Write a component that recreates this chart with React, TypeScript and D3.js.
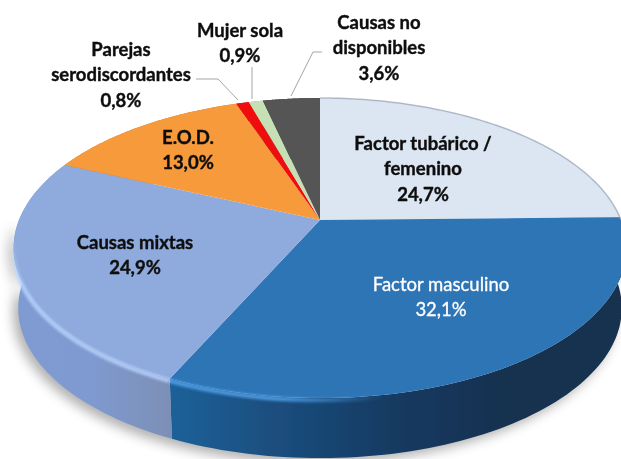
import React from "react";
import * as d3 from "d3";

const categories = ["Factor tubárico / femenino", "Factor masculino", "Causas mixtas", "E.O.D.", "Parejas serodiscordantes", "Mujer sola", "Causas no disponibles"];
const shares = [24.7, 32.1, 24.9, 13.0, 0.8, 0.9, 3.6];
const topColors = ["#dce6f2", "#2e75b6", "#8faadc", "#f79a3a", "#f01010", "#c6dfb4", "#545454"];
// side wall colours, left to right
const sideStops: string[][] = [
  ["#9aa5b2", "#b4bfcc"],
  ["#1f6199", "#1a4c7c", "#153a61", "#12304f", "#12304f"],
  ["#7f9bd2", "#7f9ad0", "#7c8fb6"],
  ["#c77a2c", "#c77a2c"],
  ["#b00", "#b00"],
  ["#9ab08a", "#9ab08a"],
  ["#3a3a3a", "#3a3a3a"],
];
const rimColors = ["#dce6f2", "#4f9fe6", "#b4d0fb", "#f79a3a", "#f01010", "#c6dfb4", "#545454"];
const labelLines: { lines: string[]; x: number; y: number; fill: string; weight: number }[] = [
  { lines: ["Causas no", "disponibles", "3,6%"], x: 379, y: 22, fill: "#111", weight: 700 },
  { lines: ["Mujer sola", "0,9%"], x: 240, y: 30, fill: "#111", weight: 700 },
  { lines: ["Parejas", "serodiscordantes", "0,8%"], x: 121, y: 49, fill: "#111", weight: 700 },
  { lines: ["E.O.D.", "13,0%"], x: 188, y: 137, fill: "#111", weight: 700 },
  { lines: ["Factor tubárico /", "femenino", "24,7%"], x: 423, y: 143, fill: "#111", weight: 700 },
  { lines: ["Causas mixtas", "24,9%"], x: 135, y: 242, fill: "#111", weight: 700 },
  { lines: ["Factor masculino", "32,1%"], x: 441, y: 284, fill: "#fff", weight: 400 },
];
const leaders: [number, number][][] = [
  [[196, 79], [218, 79], [238, 100]],
  [[252, 67], [252, 99]],
  [[322, 52], [313, 52], [291, 96]],
];

const W = 621, H = 459;
const apexX = 320, apexY = 220, rx = 301, ry = 144.8, persp = -0.187, depth = 60, baseScale = 0.985;

// Perspective projection of the pie's unit circle on to the picture
const project = (angle: number): [number, number] => {
  const X = Math.sin(angle), Y = -Math.cos(angle);
  const d = 1 + persp * Y;
  return [apexX + (rx * X) / d, apexY + (ry * Y) / d];
};
const toBase = ([x, y]: [number, number]): [number, number] => [apexX + (x - apexX) * baseScale, y + depth];
const lineGen = d3.line<[number, number]>();
const arcPts = (a0: number, a1: number) =>
  d3.range(0, 81).map((i) => project(a0 + ((a1 - a0) * i) / 80));

const pie = d3.pie<number>().sort(null).startAngle(0).endAngle(2 * Math.PI);
const arcs = pie(shares);

const wedge = (a0: number, a1: number) => lineGen([[apexX, apexY], ...arcPts(a0, a1)]) + "Z";
const sidePath = (a0: number, a1: number) => {
  const top = arcPts(a0, a1);
  return lineGen([...top, ...[...top].reverse().map(toBase)]) + "Z";
};
const hull = sidePath(Math.PI / 2, (3 * Math.PI) / 2);
const xRange = (a: { startAngle: number; endAngle: number }) => {
  const [lo, hi] = d3.extent(arcPts(a.startAngle, a.endAngle), (p) => p[0]) as [number, number];
  return [lo, hi];
};

export default function App() {
  return (
    <svg width={W} height={H} style={{ position: "absolute", left: 0, top: 0, background: "#fff" }}>
      <defs>
        <filter id="shadow" x="-20%" y="-20%" width="140%" height="140%"><feGaussianBlur stdDeviation="6" /></filter>
        <filter id="rim" x="-10%" y="-10%" width="120%" height="120%"><feGaussianBlur stdDeviation="1.4" /></filter>
        <filter id="soft" x="-10%" y="-10%" width="120%" height="120%"><feGaussianBlur stdDeviation="0.4" /></filter>
        <filter id="edge" x="-5%" y="-5%" width="110%" height="110%"><feGaussianBlur stdDeviation="0.7" /></filter>
        {arcs.map((a, i) => {
          const [lo, hi] = xRange(a);
          return (
            <linearGradient key={i} id={`side${i}`} gradientUnits="userSpaceOnUse" x1={lo} x2={hi} y1={0} y2={0}>
              {sideStops[i].map((c, j) => (
                <stop key={j} offset={j / (sideStops[i].length - 1)} stopColor={c} />
              ))}
            </linearGradient>
          );
        })}
        <linearGradient id="rimFade" gradientUnits="userSpaceOnUse" x1={0} x2={W} y1={0} y2={0}>
          <stop offset="0" stopColor="#fff" />
          <stop offset="0.45" stopColor="#fff" />
          <stop offset="0.62" stopColor="#000" />
        </linearGradient>
        <linearGradient id="rimFadeY" gradientUnits="userSpaceOnUse" x1={0} x2={0} y1={240} y2={285}>
          <stop offset="0" stopColor="#000" />
          <stop offset="1" stopColor="#fff" />
        </linearGradient>
        <mask id="rimMaskX" maskUnits="userSpaceOnUse" x={0} y={0} width={W} height={H}><rect width={W} height={H} fill="url(#rimFade)" /></mask>
        <mask id="rimMaskY" maskUnits="userSpaceOnUse" x={0} y={0} width={W} height={H}><rect width={W} height={H} fill="url(#rimFadeY)" /></mask>
      </defs>

      <path d={hull} transform="translate(-5,5)" fill="#6f6f6f" opacity={0.55} filter="url(#shadow)" />

      <g filter="url(#edge)">
        {arcs.map((a, i) => (
          <path key={i} d={sidePath(a.startAngle, a.endAngle)} fill={`url(#side${i})`} />
        ))}
        {arcs.map((a, i) => (
          <path key={i} d={wedge(a.startAngle, a.endAngle)} fill={topColors[i]} />
        ))}
      </g>

      {/* light bevel along the front rim */}
      <g mask="url(#rimMaskX)">
        <g mask="url(#rimMaskY)">
          <g filter="url(#rim)">
            {arcs.slice(1, 3).map((a, i) => (
              <path
                key={i}
                d={lineGen(arcPts(a.startAngle, a.endAngle).map(([x, y]) => [x, y + 2] as [number, number])) ?? ""}
                fill="none"
                stroke={rimColors[i + 1]}
                strokeWidth={4}
              />
            ))}
          </g>
        </g>
      </g>

      <path d={lineGen(arcPts(0, Math.PI / 2)) ?? ""} fill="none" stroke="#9aa7b6" strokeWidth={1.5} opacity={0.7} />

      {leaders.map((p, i) => (
        <path key={i} d={lineGen(p) ?? ""} fill="none" stroke="#a6a6a6" strokeWidth={1} />
      ))}

      <g filter="url(#soft)" fontFamily="Lato" fontSize={18.5} textAnchor="middle">
        {labelLines.map((l, i) => (
          <text
            key={i}
            x={l.x}
            y={l.y}
            fill={l.fill}
            fontWeight={l.weight}
            stroke={l.fill}
            strokeWidth={l.weight === 700 ? 0.4 : 0.3}
            dominantBaseline="central"
          >
            {l.lines.map((t, j) => (
              <tspan key={j} x={l.x} y={l.y + j * 25.3}>{t}</tspan>
            ))}
          </text>
        ))}
      </g>
    </svg>
  );
}
